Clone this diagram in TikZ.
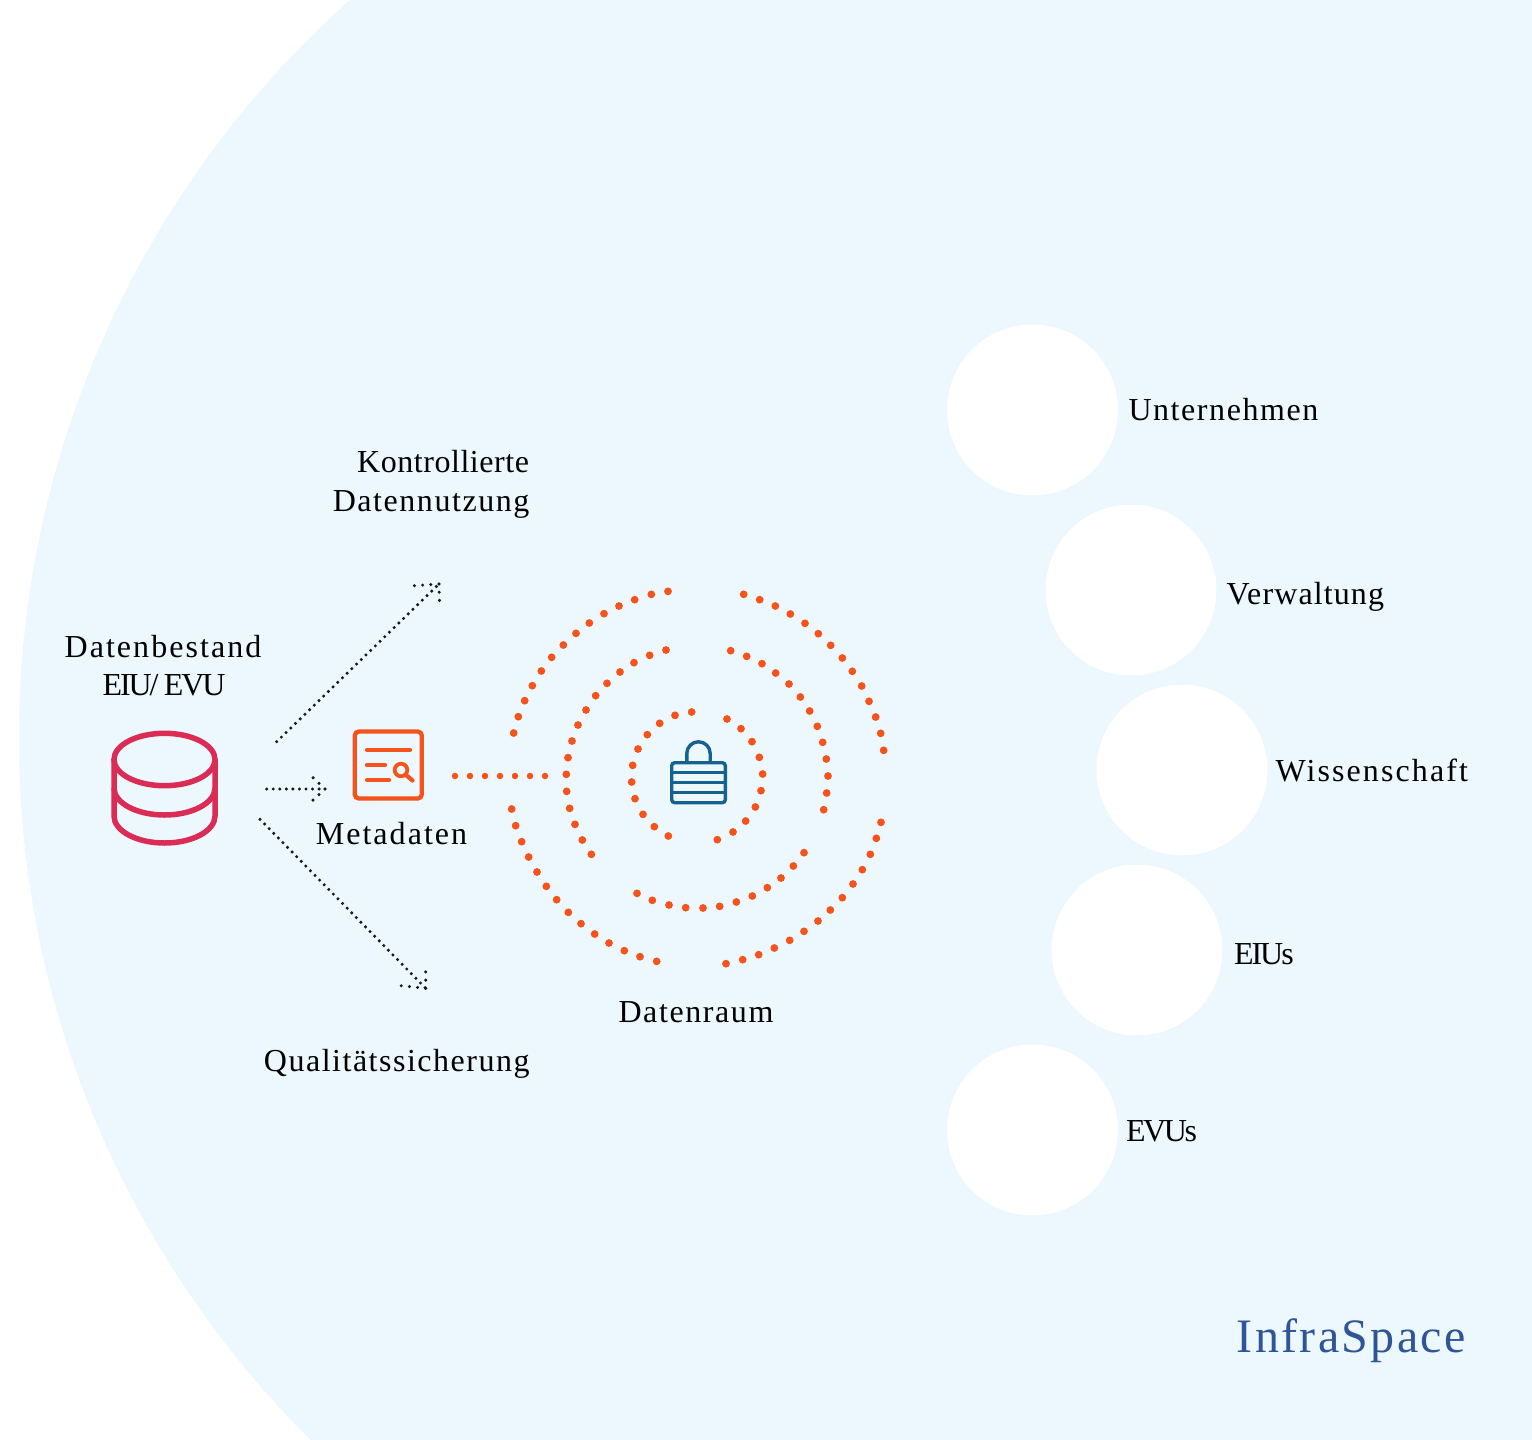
\documentclass[tikz,border=0pt]{standalone}
\usepackage{fontspec}
\setmainfont{Liberation Serif}
\definecolor{bgblue}{HTML}{ECF7FE}
\definecolor{dotorange}{HTML}{F4531C}
\definecolor{dbpink}{HTML}{DB2C56}
\definecolor{lockblue}{HTML}{14628F}
\definecolor{brandblue}{HTML}{2F5597}
\definecolor{ink}{HTML}{1A1A1A}
\newcommand{\lsp}[1]{\addfontfeature{LetterSpace=#1}}
\tikzset{
  lbl/.style={inner sep=0pt,outer sep=0pt,text=black,font=\fontsize{32}{36}\selectfont},
  partner/.style={circle,fill=white,minimum size=171pt,inner sep=0pt},
  blackdots/.style={draw=ink,line width=3.4pt,line cap=round,dash pattern=on 0pt off 6.55pt},
  headdots/.style={draw=ink,line width=3.4pt,line cap=round,dash pattern=on 0pt off 8.2pt},
  reddots/.style={draw=dotorange,line width=6.5pt,line cap=round,dash pattern=on 0pt off 15pt},
  ringdot/.style={fill=dotorange},
  dbline/.style={draw=dbpink,line width=5.5pt},
  metaline/.style={draw=dotorange,line width=4.3pt,line cap=round},
  lockline/.style={draw=lockblue,line width=3.4pt}
}
\begin{document}
\begin{tikzpicture}[x=1pt,y=-1pt]
\useasboundingbox (0,0) rectangle (1532,1440);
\begin{scope}
  \clip (0,0) rectangle (1532,1440);
  \fill[white] (0,0) rectangle (1532,1440);
  \fill[bgblue] (1008.3,738.5) circle[radius=989.3pt];
\end{scope}

% partner circles and labels
\node[partner] (c1) at (1032.5,410) {};
\node[partner] (c2) at (1131,590) {};
\node[partner] (c3) at (1182,770) {};
\node[partner] (c4) at (1137,950) {};
\node[partner] (c5) at (1032.5,1130) {};
\node[lbl,anchor=base west] (t1) at (1128.5,420) {\lsp{4.9}Unternehmen};
\node[lbl,anchor=base west] (t2) at (1226.5,604) {\lsp{3.5}Verwaltung};
\node[lbl,anchor=base west] (t3) at (1275.5,781) {\lsp{6.6}Wissenschaft};
\node[lbl,anchor=base west] (t4) at (1234,964) {\lsp{-6.3}EIUs};
\node[lbl,anchor=base west] (t5) at (1126,1141) {\lsp{-7.6}EVUs};

% left labels
\node[lbl,anchor=base east] (k1) at (529,472) {\lsp{1.7}Kontrollierte};
\node[lbl,anchor=base east] (k2) at (529.5,511) {\lsp{4.9}Datennutzung};
\node[lbl,anchor=base] (d1) at (163,657) {\lsp{6.4}Datenbestand};
\node[lbl,anchor=base] (d2) at (164,695) {\lsp{-6.5}EIU/\,EVU};
\node[lbl,anchor=base] (m1) at (391.5,844) {\lsp{6.4}Metadaten};
\node[lbl,anchor=base] (r1) at (696,1022) {\lsp{5}Datenraum};
\node[lbl,anchor=base east] (q1) at (529.5,1071) {\lsp{4.7}Qualitätssicherung};
\node[anchor=base west,inner sep=0pt,text=brandblue,font=\fontsize{48}{56}\selectfont] (brand) at (1236.5,1352) {\lsp{4.9}InfraSpace};

% database icon
\begin{scope}
  \clip (100,720) rectangle (230,845.5);
  \draw[dbline] (164.5,759.5) circle[x radius=50.5pt,y radius=26.2pt];
  \draw[dbline] (114,759.5) -- (114,816) arc[start angle=180,end angle=360,x radius=50.5pt,y radius=27pt] -- (215,759.5);
  \draw[dbline] (114,788) arc[start angle=180,end angle=360,x radius=50.5pt,y radius=27pt];
\end{scope}

% metadata icon
\node[draw=dotorange,line width=4.3pt,rounded corners=4pt,minimum width=67pt,minimum height=67pt,inner sep=0pt] (meta) at (388.3,765) {};
\draw[metaline] (367,750) -- (410,750);
\draw[metaline] (367,765) -- (385,765);
\draw[metaline] (367,780) -- (389,780);
\draw[draw=dotorange,line width=3.8pt] (401,770) circle[radius=6.3pt];
\draw[metaline] (406,775) -- (412.5,780.5);

% black dotted arrows
\coordinate (upS) at (276.7,741.7);
\coordinate (upT) at (439,584);
\coordinate (upA) at (414,585.7);
\coordinate (upB) at (439.7,607.7);
\coordinate (midS) at (266.7,789);
\coordinate (midT) at (325,789);
\coordinate (midA) at (307.7,772.7);
\coordinate (midB) at (307.7,805);
\coordinate (dnS) at (260,819.3);
\coordinate (dnT) at (425.7,988.3);
\coordinate (dnA) at (425.7,964.3);
\coordinate (dnB) at (401,985.7);
\draw[blackdots] (upS) -- (upT);
\draw[headdots] (upT) -- (upA);
\draw[headdots] (upT) -- (upB);
\draw[blackdots] (midS) -- (midT);
\draw[headdots] (midT) -- (midA);
\draw[headdots] (midT) -- (midB);
\draw[blackdots] (dnS) -- (dnT);
\draw[headdots] (dnT) -- (dnA);
\draw[headdots] (dnT) -- (dnB);

% feed from metadata to data room
\coordinate (feedS) at (455,776);
\coordinate (feedE) at (546,776);
\draw[reddots] (feedS) -- (feedE);

% rings of dots
\foreach \p/\q in {534/64,484/73,434/89,387/108,342/131,298/159,258/190,220/225,185/262,154/303,127/347,104/392,85/440,71/489,
  761/73,809/89,856/108,901/132,945/160,985/191,1022/226,1057/264,1087/304,1115/348,1137/394,1157/441,1172/490,1181/541,
  1173/757,1159/805,1141/853,1117/899,1089/942,1057/983,1021/1020,984/1053,942/1084,899/1111,853/1134,806/1154,758/1169,708/1181,
  500/1174,450/1160,403/1142,357/1119,314/1092,273/1061,235/1027,200/989,169/949,141/906,116/861,95/815,77/767,65/717,
  528/240,479/256,432/278,390/306,351/340,317/377,288/420,264/465,246/513,234/563,229/613,230/664,239/715,255/763,277/810,304/853,
  722/242,770/259,816/281,857/309,897/342,931/381,959/423,982/469,998/517,1009/567,1014/618,1010/669,1001/719,
  942/848,910/888,873/924,832/953,787/978,739/996,689/1009,639/1014,587/1013,537/1005,487/991,441/970,
  605/426,555/436,509/460,472/494,444/537,428/586,425/636,435/686,459/733,493/770,535/798,
  711/447,753/476,786/515,808/562,818/612,813/662,796/711,767/753,729/786,682/809}
  \fill[ringdot] ({490+\p/3},{570+\q/3}) circle[radius=3.9pt];

% lock icon
\node[draw=lockblue,line width=3.4pt,rounded corners=3pt,minimum width=53.6pt,minimum height=40pt,inner sep=0pt] (lock) at (698.5,782.7) {};
\draw[lockline] (671.7,772.7) -- (725.3,772.7);
\draw[lockline] (671.7,782.7) -- (725.3,782.7);
\draw[lockline] (671.7,792.7) -- (725.3,792.7);
\draw[lockline] (686.8,762.7) -- (686.8,753.5) arc[start angle=180,end angle=0,radius=11.7pt] -- (710.2,762.7);
\end{tikzpicture}
\end{document}
